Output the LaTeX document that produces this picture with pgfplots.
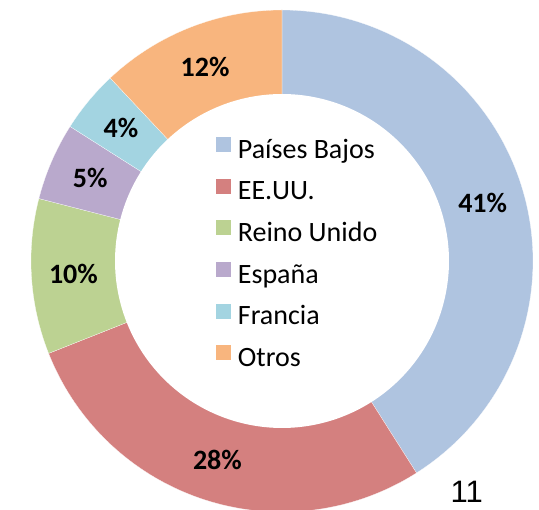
\documentclass[border=0pt]{standalone}
\usepackage{pgfplots}
\pgfplotsset{compat=1.18}
\usepackage{fontspec}
\setmainfont{Carlito}
\newfontfamily\arialfont{Liberation Sans}
\definecolor{cPB}{HTML}{AFC4E0}
\definecolor{cUS}{HTML}{D4807F}
\definecolor{cUK}{HTML}{BCD292}
\definecolor{cES}{HTML}{B9A9CC}
\definecolor{cFR}{HTML}{A3D4E1}
\definecolor{cOT}{HTML}{F8B57E}
\tikzset{pct/.style={font=\fontsize{28}{33}\selectfont\bfseries, text=black, inner sep=0pt}}
% centre (282,249), outer radius 251, inner radius 167, label radius 209
\def\cumangle{90}
\newcommand\slice[2]{%
  \pgfmathsetmacro\sA{\cumangle}%
  \pgfmathsetmacro\sB{\cumangle-3.6*#1}%
  \pgfmathsetmacro\sM{(\sA+\sB)/2}%
  \pgfmathsetmacro\lx{282+209*cos(\sM)}%
  \pgfmathsetmacro\ly{249+209*sin(\sM)}%
  \edef\doslice{\noexpand\addplot[fill=#2, draw=white, line width=0.2pt, domain=\sB:\sA, samples=120] ({282+251*cos(x)},{249+251*sin(x)}) -- (axis cs:282,249) -- cycle;
    \noexpand\node[pct] at (axis cs:\lx,\ly) {#1\noexpand\%};}%
  \doslice
  \xdef\cumangle{\sB}%
}
\begin{document}
\begin{tikzpicture}
\begin{axis}[
  x=1pt, y=1pt, xmin=0, xmax=539, ymin=0, ymax=510,
  hide axis, clip=true,
  legend style={draw=none, fill=none, inner sep=0pt, outer sep=0pt,
    at={(axis cs:215,374)}, anchor=north west,
    font=\fontsize{28}{33}\selectfont,
    nodes={inner sep=0pt, text height=18pt, text depth=6pt},
    row sep=13.6pt,
    /tikz/every odd column/.append style={column sep=6.7pt}},
  legend cell align=left,
  legend image code/.code={\fill[#1] (0pt,0pt) rectangle (16pt,16pt);},
]
\slice{41}{cPB}
\slice{28}{cUS}
\slice{10}{cUK}
\slice{5}{cES}
\slice{4}{cFR}
\slice{12}{cOT}
\addplot[fill=white, draw=none, domain=0:360, samples=240, forget plot] ({282+167*cos(x)},{249+167*sin(x)}) -- cycle;
\legend{Países Bajos, EE.UU., Reino Unido, España, Francia, Otros}
\node[anchor=base, inner sep=0pt, font=\arialfont\fontsize{31}{36}\selectfont] at (axis cs:466.7,7) {11};
\end{axis}
\pgfresetboundingbox
\path[use as bounding box] (0,0) rectangle (539pt,510pt);
\end{tikzpicture}
\end{document}
